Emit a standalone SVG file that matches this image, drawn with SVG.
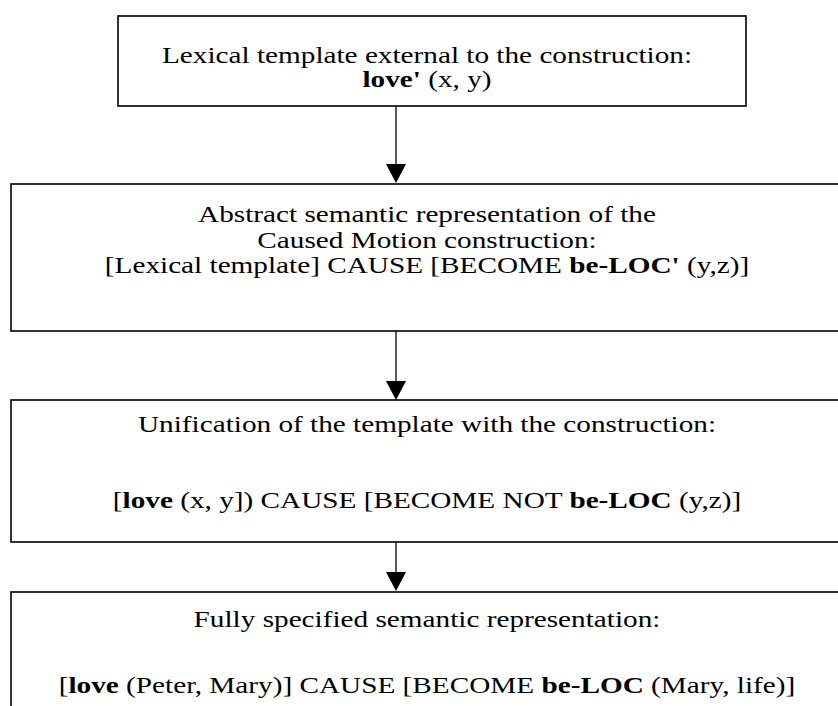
<svg xmlns="http://www.w3.org/2000/svg" width="838" height="706" viewBox="0 0 838 706">
  <defs>
    <style>
      .box { fill: #fff; stroke: #000; stroke-width: 1.6; }
      .t { font-family: "Liberation Serif", "Times New Roman", serif; font-size: 22.5px; fill: #000; text-anchor: middle; }
      .b { font-weight: bold; }
      .conn { stroke: #000; stroke-width: 1.3; fill: none; }
      .head { fill: #000; stroke: none; }
    </style>
  </defs>
  <rect width="838" height="706" fill="#fff"/>

  <!-- vertical connectors with filled triangular heads -->
  <g id="connectors">
    <line class="conn" x1="396" y1="106" x2="396" y2="165"/>
    <path class="head" d="M386,164 L406,164 L396,183 Z"/>
    <line class="conn" x1="396" y1="331" x2="396" y2="382"/>
    <path class="head" d="M386,381 L406,381 L396,400 Z"/>
    <line class="conn" x1="396" y1="542" x2="396" y2="573"/>
    <path class="head" d="M386,572 L406,572 L396,591 Z"/>
  </g>

  <g id="node-lexical-template">
    <rect class="box" x="118" y="16" width="628" height="90"/>
    <g transform="translate(427 63) scale(1.3 1)">
      <text class="t" x="0" y="0">Lexical template external to the construction:</text>
      <text class="t" x="0" y="24"><tspan class="b">love'</tspan> (x, y)</text>
    </g>
  </g>

  <g id="node-abstract-representation">
    <rect class="box" x="11" y="184" width="840" height="147"/>
    <g transform="translate(427 222) scale(1.3 1)">
      <text class="t" x="0" y="0">Abstract semantic representation of the</text>
      <text class="t" x="0" y="26">Caused Motion construction:</text>
      <text class="t" x="0" y="51">[Lexical template] CAUSE [BECOME <tspan class="b">be-LOC'</tspan> (y,z)]</text>
    </g>
  </g>

  <g id="node-unification">
    <rect class="box" x="11" y="400" width="840" height="142"/>
    <g transform="translate(427 432) scale(1.3 1)">
      <text class="t" x="0" y="0">Unification of the template with the construction:</text>
      <text class="t" x="0" y="76">[<tspan class="b">love</tspan> (x, y]) CAUSE [BECOME NOT <tspan class="b">be-LOC</tspan> (y,z)]</text>
    </g>
  </g>

  <g id="node-fully-specified">
    <rect class="box" x="11" y="592" width="840" height="140"/>
    <g transform="translate(427 627) scale(1.3 1)">
      <text class="t" x="0" y="0">Fully specified semantic representation:</text>
      <text class="t" x="0" y="66">[<tspan class="b">love</tspan> (Peter, Mary)] CAUSE [BECOME <tspan class="b">be-LOC</tspan> (Mary, life)]</text>
    </g>
  </g>
</svg>
